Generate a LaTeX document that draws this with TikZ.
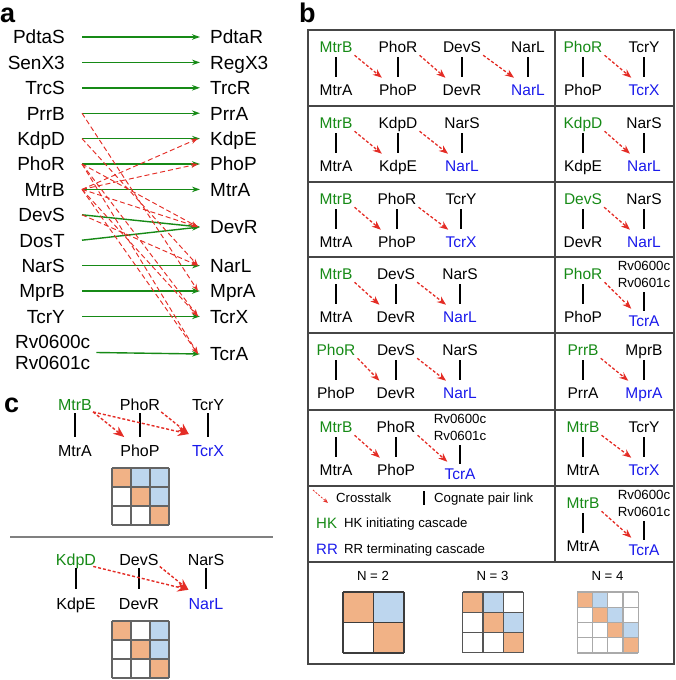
\documentclass[tikz,border=0pt]{standalone}
\usepackage{fontspec}
\setmainfont{Liberation Sans}
\usetikzlibrary{arrows.meta,calc}

\definecolor{hkgreen}{RGB}{22,138,22}
\definecolor{rrblue}{RGB}{25,25,235}
\definecolor{xred}{RGB}{228,45,38}
\definecolor{diagorange}{RGB}{241,178,134}
\definecolor{offblue}{RGB}{189,214,238}
\definecolor{framegray}{RGB}{70,70,70}

\newcommand{\HK}[1]{\textcolor{hkgreen}{#1}}
\newcommand{\RR}[1]{\textcolor{rrblue}{#1}}

% one cascade of cognate pairs in a cell of b
\newcommand{\cascade}[3]{%
  \foreach \x/\h/\r [count=\k] in {#3} {
    \node[gene b] (#1h\k) at (\x,{#2+16.5}) {\h};
    \node[gene b] (#1r\k) at (\x,{#2+59.5}) {\r};
    \draw[pair b] (#1h\k) -- (#1r\k);
    \pgfmathtruncatemacro{\j}{\k-1}
    \ifnum\k>1 \draw[xtalk b] ([xshift=-1pt]#1h\j.south east) -- ([xshift=6pt,yshift=3pt]#1r\k.north west);\fi
  }
}
% the Rv0600c/Rv0601c pair closing a cascade
\newcommand{\rvpair}[4]{%
  \node[gene rv] (#1va) at (#2,{#3+8.7}) {Rv0600c};
  \node[gene rv] (#1vb) at (#2,{#3+25.3}) {Rv0601c};
  \node[gene b] (#1vr) at (#2,{#3+63.5}) {\RR{TcrA}};
  \draw[pair b,shorten >=1pt] (#1vb) -- (#1vr);
  \draw[xtalk b] ([xshift=-1pt]#4.south east) -- ([xshift=6pt,yshift=3pt]#1vr.north west);
}
% state matrix: position, cell, size, blue cells, line style
\newcommand{\statmat}[5]{%
  \begin{scope}[shift={#1}]
    \foreach \i in {1,...,#3}
      \fill[diagorange] ({(\i-1)*#2},{(\i-1)*#2}) rectangle ++(#2,#2);
    \foreach \i/\j in {#4}
      \fill[offblue] ({(\j-1)*#2},{(\i-1)*#2}) rectangle ++(#2,#2);
    \foreach \k in {0,...,#3} {
      \draw[#5] ({\k*#2},0) -- ({\k*#2},{#3*#2});
      \draw[#5] (0,{\k*#2}) -- ({#3*#2},{\k*#2});
    }
  \end{scope}
}

\begin{document}
\begin{tikzpicture}[x=1pt,y=-1pt,
  gene a/.style={font=\fontsize{19}{22}\selectfont,inner sep=0pt,text height=13.6pt,text depth=0pt},
  gene b/.style={font=\fontsize{15.5}{18}\selectfont,inner sep=3pt,text height=11.1pt,text depth=0pt},
  gene rv/.style={font=\fontsize{13.3}{16}\selectfont,inner sep=3pt,text height=9.5pt,text depth=0pt},
  gene c/.style={font=\fontsize{16}{19}\selectfont,inner sep=1pt,text height=11.5pt,text depth=0pt},
  legend/.style={font=\fontsize{13.2}{16}\selectfont,inner sep=0pt,text height=9.5pt,text depth=0pt,anchor=west},
  panel/.style={font=\fontsize{27}{30}\selectfont\bfseries,inner sep=0pt,anchor=base west},
  cognate/.style={hkgreen,line width=1.4pt,-{Stealth[length=8pt,width=5.5pt]}},
  xtalk a/.style={xred,line width=0.95pt,dash pattern=on 5pt off 3pt,-{Stealth[length=7pt,width=5pt]}},
  xtalk b/.style={xred,line width=1.3pt,dash pattern=on 3pt off 2pt,-{Stealth[length=9pt,width=7pt]}},
  xtalk c/.style={xred,line width=1.4pt,dash pattern=on 3pt off 2pt,-{Stealth[length=11pt,width=9pt]}},
  xtalk key/.style={xred,line width=0.8pt,dash pattern=on 2pt off 1.5pt,-{Stealth[length=5pt,width=4pt]}},
  pair b/.style={line width=2.4pt,shorten <=2pt,shorten >=4pt},
  pair c/.style={line width=2.6pt,shorten <=1.5pt,shorten >=7.5pt},
  frame/.style={framegray,line width=1.3pt},
  mat dark/.style={draw={rgb,255:red,60;green,60;blue,60},line width=1.4pt},
  mat mid/.style={draw={rgb,255:red,85;green,85;blue,85},line width=1.2pt},
  mat light/.style={draw={rgb,255:red,170;green,170;blue,170},line width=1.2pt},
  mat c/.style={draw={rgb,255:red,100;green,100;blue,100},line width=1.1pt}]
  \useasboundingbox (0,0) rectangle (675,680);

  % a: cognate pairs and crosstalk
  \node[panel] (lab-a) at (0,22) {a};
  \foreach \n/\lab/\y in {pdtas/PdtaS/37,senx/SenX3/62.4,trcs/TrcS/87.8,prrb/PrrB/113.2,kdpd/KdpD/138.6,phor/PhoR/164,mtrb/MtrB/189.4,devs/DevS/214.8,dost/DosT/240.2,nars/NarS/265.6,mprb/MprB/291,tcry/TcrY/316.4}
    \node[gene a,anchor=east] (hk-\n) at (65,\y) {\lab};
  \foreach \n/\lab/\y in {pdtar/PdtaR/37,regx/RegX3/62.4,trcr/TrcR/87.8,prra/PrrA/113.2,kdpe/KdpE/138.6,phop/PhoP/164,mtra/MtrA/189.4,devr/DevR/227,narl/NarL/265.6,mpra/MprA/291,tcrx/TcrX/316.4,tcra/TcrA/354}
    \node[gene a,anchor=west] (rr-\n) at (210,\y) {\lab};
  \node[gene a,anchor=west] (hk-rva) at (15,342) {Rv0600c};
  \node[gene a,anchor=west] (hk-rvb) at (15,363) {Rv0601c};
  \coordinate (rv) at ($(hk-rva.east)!0.5!(hk-rvb.east)$);
  \foreach \a/\b in {pdtas/pdtar,senx/regx,trcs/trcr,prrb/prra,kdpd/kdpe,phor/phop,mtrb/mtra,devs/devr,dost/devr,nars/narl,mprb/mpra,tcry/tcrx}
    \draw[cognate] ($(hk-\a.east)+(17,0)$) -- ($(rr-\b.west)+(-10,0)$);
  \draw[cognate] ($(rv)+(6,0)$) -- ($(rr-tcra.west)+(-10,0)$);
  \foreach \a/\b in {prrb/mpra,kdpd/narl,phor/devr,phor/tcrx,phor/tcra,mtrb/phop,mtrb/kdpe,mtrb/devr,mtrb/tcrx,mtrb/tcra,devs/narl}
    \draw[xtalk a] ($(hk-\a.east)+(17,0)$) -- ($(rr-\b.west)+(-12,0)$);

  % b: cascades
  \node[panel] (lab-b) at (299,22) {b};
  \draw[frame] (308,30) rectangle (674,664);
  \draw[frame] (555,30) -- (555,562);
  \foreach \y in {106,182,257,333,410,486,562}
    \draw[frame] (308,\y) -- (674,\y);
  \cascade{p1}{30}{336/\HK{MtrB}/MtrA,398/PhoR/PhoP,462/DevS/DevR,528/NarL/\RR{NarL}}
  \cascade{p2}{106}{336/\HK{MtrB}/MtrA,398/KdpD/KdpE,462/NarS/\RR{NarL}}
  \cascade{p3}{182}{336/\HK{MtrB}/MtrA,397/PhoR/PhoP,461/TcrY/\RR{TcrX}}
  \cascade{p4}{257}{336/\HK{MtrB}/MtrA,396/DevS/DevR,460/NarS/\RR{NarL}}
  \cascade{p5}{333}{336/\HK{PhoR}/PhoP,396/DevS/DevR,460/NarS/\RR{NarL}}
  \cascade{p6}{410}{336/\HK{MtrB}/MtrA,396/PhoR/PhoP}
  \rvpair{p6}{460}{410}{p6h2}
  \cascade{q1}{30}{583/\HK{PhoR}/PhoP,644/TcrY/\RR{TcrX}}
  \cascade{q2}{106}{583/\HK{KdpD}/KdpE,644/NarS/\RR{NarL}}
  \cascade{q3}{182}{583/\HK{DevS}/DevR,644/NarS/\RR{NarL}}
  \cascade{q4}{257}{583/\HK{PhoR}/PhoP}
  \rvpair{q4}{644}{257}{q4h1}
  \cascade{q5}{333}{583/\HK{PrrB}/PrrA,644/MprB/\RR{MprA}}
  \cascade{q6}{410}{583/\HK{MtrB}/MtrA,644/TcrY/\RR{TcrX}}
  \cascade{q7}{486}{583/\HK{MtrB}/MtrA}
  \rvpair{q7}{644}{486}{q7h1}
  % key
  \coordinate (key-a) at (313,490); \coordinate (key-b) at (328,503);
  \draw[xtalk key] (key-a) -- (key-b);
  \node[legend] (key-xt) at (336,498) {Crosstalk};
  \coordinate (key-c) at (424,491); \coordinate (key-d) at (424,505);
  \draw[line width=2.4pt] (key-c) -- (key-d);
  \node[legend] (key-cp) at (434,498) {Cognate pair link};
  \node[legend,font=\fontsize{15}{18}\selectfont,text height=10.7pt,hkgreen] (key-hk) at (316,523) {HK};
  \node[legend] (key-hkt) at (344,523) {HK initiating cascade};
  \node[legend,font=\fontsize{15}{18}\selectfont,text height=10.7pt,rrblue] (key-rr) at (316,549) {RR};
  \node[legend] (key-rrt) at (344,549) {RR terminating cascade};
  % matrices
  \node[legend,anchor=center] (n2) at (373,576) {N = 2};
  \node[legend,anchor=center] (n3) at (492.5,576) {N = 3};
  \node[legend,anchor=center] (n4) at (607.5,576) {N = 4};
  \statmat{(343,592)}{30.5}{2}{1/2}{mat dark}
  \statmat{(462.7,592)}{20.2}{3}{1/2,2/3}{mat mid}
  \statmat{(577.3,592)}{15.25}{4}{1/2,2/3,3/4}{mat light}

  % c: two cascades of three pairs
  \node[panel] (lab-c) at (4,412) {c};
  \foreach \x/\h/\r [count=\k] in {75/\HK{MtrB}/MtrA,140/PhoR/PhoP,208/TcrY/\RR{TcrX}} {
    \node[gene c] (c1h\k) at (\x,405) {\h};
    \node[gene c] (c1r\k) at (\x,451) {\r};
    \draw[pair c] (c1h\k) -- (c1r\k);
  }
  \draw[xtalk c] (c1h1.south east) -- ([xshift=5pt,yshift=7pt]c1r2.north west);
  \draw[xtalk c] (c1h1.south east) -- ([xshift=-2pt,yshift=10pt]c1r3.north west);
  \draw[xtalk c] (c1h2.south east) -- ([xshift=-2pt,yshift=10pt]c1r3.north west);
  \statmat{(112,468)}{19}{3}{1/2,1/3,2/3}{mat c}
  \coordinate (sep-l) at (10,537); \coordinate (sep-r) at (273,537);
  \draw[draw={rgb,255:red,128;green,128;blue,128},line width=1.8pt] (sep-l) -- (sep-r);
  \foreach \x/\h/\r [count=\k] in {76/\HK{KdpD}/KdpE,139/DevS/DevR,206/NarS/\RR{NarL}} {
    \node[gene c] (c2h\k) at (\x,559.5) {\h};
    \node[gene c] (c2r\k) at (\x,603.7) {\r};
    \draw[pair c] (c2h\k) -- (c2r\k);
  }
  \draw[xtalk c] ([xshift=-4pt]c2h1.south east) -- ([xshift=1pt,yshift=7pt]c2r3.north west);
  \draw[xtalk c] (c2h2.south east) -- ([xshift=1pt,yshift=7pt]c2r3.north west);
  \statmat{(112,621)}{19}{3}{1/3,2/3}{mat c}
\end{tikzpicture}
\end{document}
